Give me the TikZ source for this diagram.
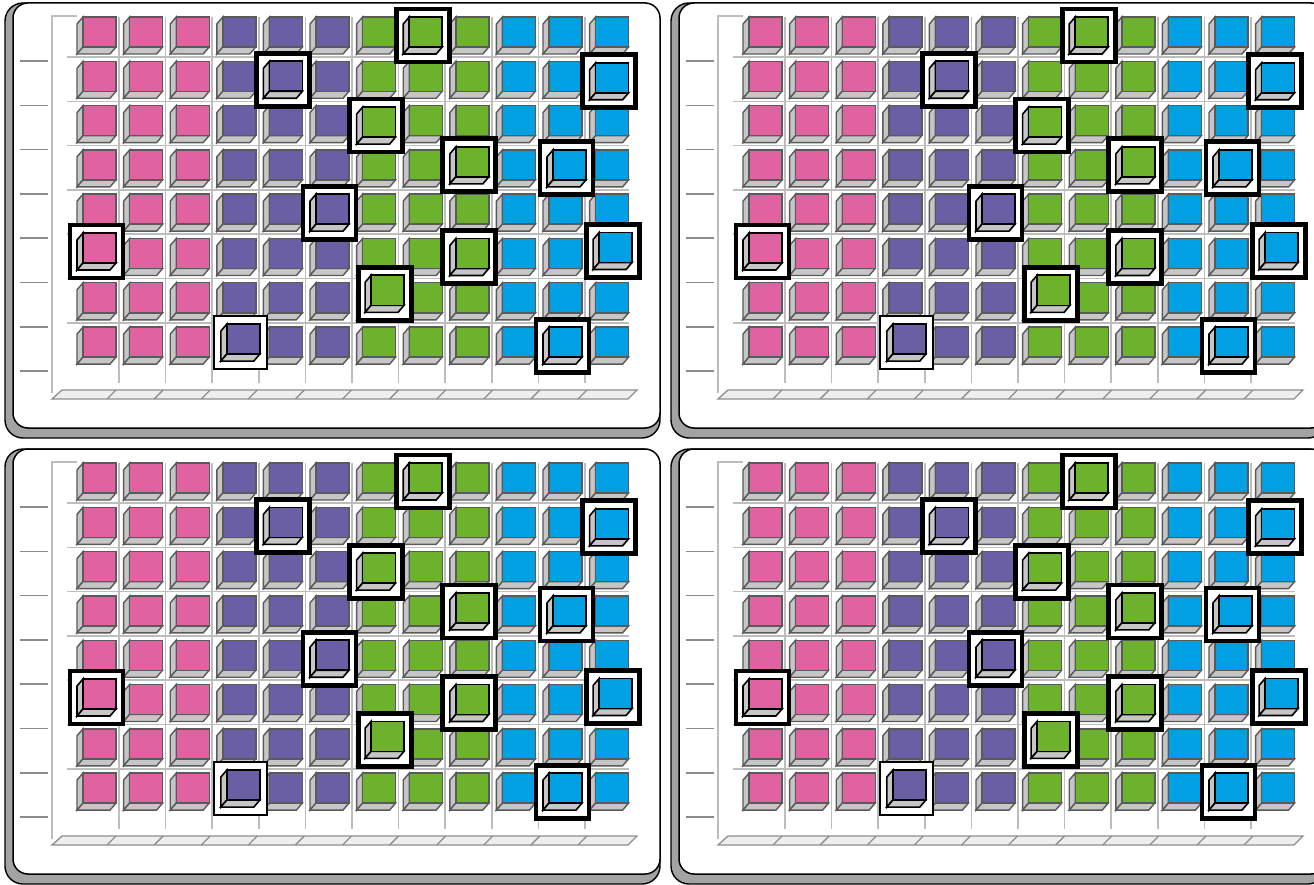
\documentclass[tikz,border=0pt]{standalone}
\definecolor{pinkw}{HTML}{E062A0}
\definecolor{purplew}{HTML}{6A5EA5}
\definecolor{greenw}{HTML}{6DB22C}
\definecolor{bluew}{HTML}{00A0E2}
\definecolor{sidegray}{HTML}{C6C6C6}
\definecolor{edgegray}{HTML}{5A5A5A}
\definecolor{gridgray}{HTML}{BDBDBD}
\definecolor{shadowgray}{HTML}{A3A3A3}
\definecolor{stripfill}{HTML}{EEEEEE}
\definecolor{stripedge}{HTML}{8E8E8E}
\definecolor{tickgray}{HTML}{8C8C8C}
\tikzset{
  gridline/.style={draw=gridgray,line width=1.5pt},
  tickline/.style={draw=tickgray,line width=1.5pt},
  stripbar/.style={fill=stripfill,draw=stripedge,line width=1.3pt},
  stripline/.style={draw=stripedge,line width=1.3pt},
  shadowbox/.style={fill=shadowgray,draw=black,line width=1.4pt,rounded corners=18pt},
  panelbox/.style={fill=white,draw=black,line width=1.5pt,rounded corners=15pt},
}
% cube: #1 x, #2 y of front face top-left, #3 fill, #4 edge colour, #5 line width
\newcommand\plcube[5]{%
  \filldraw[fill=sidegray,draw=#4,line width=#5] (#1,#2) -- (#1-6,#2+7) -- (#1-6,#2+37) -- (#1,#2+30) -- cycle;
  \filldraw[fill=sidegray,draw=#4,line width=#5] (#1,#2+30) -- (#1+33,#2+30) -- (#1+27,#2+37) -- (#1-6,#2+37) -- cycle;
  \filldraw[fill=#3,draw=#4,line width=#5] (#1,#2) rectangle (#1+33,#2+30);
}
\newcommand\plpanel{%
  \path[shadowbox] (5,3) rectangle (660,438);
  \path[panelbox] (13,3) rectangle (660,428);
  \foreach \j in {0,...,10} \draw[gridline] ({119+46.6*\j},17) -- ({119+46.6*\j},383);
  \foreach \i in {0,...,6} \draw[gridline] (67,{57+44.3*\i}) -- (629,{57+44.3*\i});
  \draw[gridline] (77,16) -- (52,16) -- (52,393);
  \foreach \i in {0,...,7} \draw[tickline] (20,{61+44.3*\i}) -- (48,{61+44.3*\i});
  \path[stripbar] (52,399) -- (62,390) -- (637,390) -- (628,399) -- cycle;
  \foreach \j in {0,...,10} \draw[stripline] ({107+47.1*\j},399) -- ({116+47.1*\j},390);
  \foreach \c/\col in {1/pinkw,2/pinkw,3/pinkw,4/purplew,5/purplew,6/purplew,7/greenw,8/greenw,9/greenw,10/bluew,11/bluew,12/bluew}{
    \foreach \r in {1,...,8}{
      \pgfmathsetmacro\xx{83+46.6*(\c-1)}
      \pgfmathsetmacro\yy{17+44.3*(\r-1)}
      \plcube{\xx}{\yy}{\col}{edgegray}{1.4pt}
    }
  }
  \foreach \c/\r/\dx/\dy/\lw/\col in {8/1/0/0/4.8pt/greenw, 5/2/0/0/4.8pt/purplew, 12/2/0/1.5/4.8pt/bluew,
      7/3/0/1.5/4.8pt/greenw, 9/4/0/-3/4.8pt/greenw, 11/4/4/0/4.8pt/bluew, 6/5/0/0/4.8pt/purplew,
      1/6/0/-5.5/4.8pt/pinkw, 9/6/0/0/4.8pt/greenw, 12/6/3.5/-6/4.8pt/bluew, 7/7/8.5/-7.5/4.8pt/greenw,
      11/8/0/0/4.8pt/bluew, 4/8/4/-3/1.8pt/purplew}{
    \pgfmathsetmacro\cx{96.5+46.6*(\c-1)+\dx}
    \pgfmathsetmacro\cy{35.5+44.3*(\r-1)+\dy}
    \filldraw[fill=white,draw=black,line width=\lw] (\cx-26.5,\cy-26.5) rectangle (\cx+26.5,\cy+26.5);
    \pgfmathsetmacro\qx{\cx-13.5}
    \pgfmathsetmacro\qy{\cy-18.5}
    \plcube{\qx}{\qy}{\col}{black}{1.6pt}
  }
}
\begin{document}
\begin{tikzpicture}[x=1pt,y=-1pt]
  \useasboundingbox (0,0) rectangle (1314,885);
  \clip (0,0) rectangle (1314,885);
  \begin{scope}\plpanel\end{scope}
  \begin{scope}[shift={(666,0)}]\plpanel\end{scope}
  \begin{scope}[shift={(0,446)}]\plpanel\end{scope}
  \begin{scope}[shift={(666,446)}]\plpanel\end{scope}
\end{tikzpicture}
\end{document}
